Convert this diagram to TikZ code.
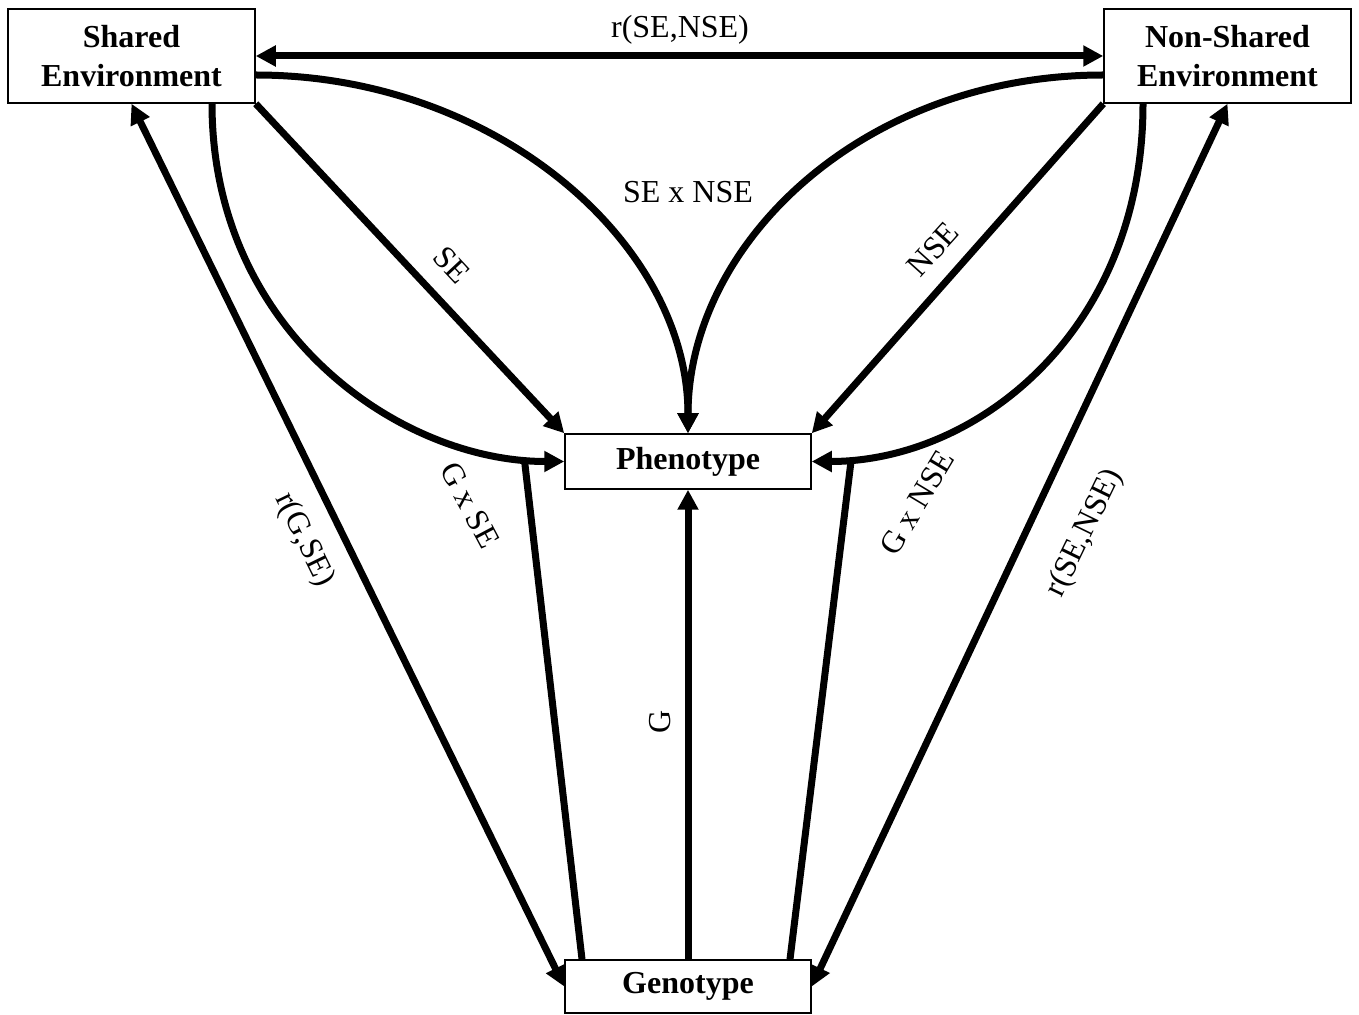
\documentclass[tikz,border=0pt]{standalone}
\usepackage{fontspec}
\setmainfont{Liberation Serif}
\usetikzlibrary{arrows.meta,calc}

\tikzset{
  box/.style={draw, line width=0.75pt, fill=white, inner sep=0pt, align=center,
    font=\bfseries\fontsize{16}{19.5}\selectfont},
  link/.style={line width=3.5pt},
  arr/.style={link, -{Triangle[length=10pt,width=10pt]}},
  darr/.style={link, {Triangle[length=10pt,width=10pt]}-{Triangle[length=10pt,width=10pt]}},
  lbl/.style={font=\fontsize{16}{19}\selectfont, inner sep=1pt}
}

\begin{document}
\begin{tikzpicture}[x=0.5pt, y=-0.5pt]
\useasboundingbox (0,0) rectangle (1359,1015);

% boxes
\node[box, minimum width=123.5pt, minimum height=47pt] (se)  at (131.5,56)  {Shared\\Environment};
\node[box, minimum width=123.5pt, minimum height=47pt] (nse) at (1227.5,56) {Non-Shared\\Environment};
\node[box, minimum width=123pt, minimum height=27.5pt] (ph) at (688,461.5) {Phenotype};
\node[box, minimum width=123pt, minimum height=26.5pt] (ge) at (688,986.5) {Genotype};

% correlation between the two environments
\draw[darr] (se.east) -- (nse.west);
\node[lbl] (lrsn) at (680,30) {r(SE,NSE)};

% SE x NSE interaction
\draw[arr] ($(se.east)+(0,19)$) .. controls +(240,0) and +(0,-190) .. (ph.north);
\draw[arr] ($(nse.west)+(0,19)$) .. controls +(-240,0) and +(0,-190) .. (ph.north);
\node[lbl] (lsxn) at (688,192) {SE x NSE};

% main effects of the environments
\draw[arr] (se.south east) -- (ph.north west);
\node[lbl, rotate=-47] (lse) at (452,265) {SE};
\draw[arr] (nse.south west) -- (ph.north east);
\node[lbl, rotate=48] (lnse) at (933,249) {NSE};

% environment paths moderated by genotype
\draw[arr] ($(se.south)+(80.5,0)$) .. controls +(0,227) and +(-165,0) .. coordinate[pos=0.92] (gxse) (ph.west);
\draw[arr] ($(nse.south)+(-84.5,0)$) .. controls +(0,227) and +(165,0) .. coordinate[pos=0.92] (gxnse) (ph.east);
\draw[link] ($(ge.north)+(-106,0)$) -- (gxse);
\draw[link] ($(ge.north)+(102,0)$) -- (gxnse);
\node[lbl, rotate=-62] (lgxse) at (470,505) {G x SE};
\node[lbl, rotate=59] (lgxnse) at (917,503) {G x NSE};

% genetic main effect
\draw[arr] (ge.north) -- (ph.south);
\node[lbl, rotate=90] (lg) at (660,722) {G};

% gene-environment correlations
\draw[darr] (se.south) -- (ge.west);
\node[lbl, rotate=-64] (lrgs) at (304,540) {r(G,SE)};
\draw[darr] (nse.south) -- (ge.east);
\node[lbl, rotate=64] (lrgn) at (1085,533) {r(SE,NSE)};
\end{tikzpicture}
\end{document}
